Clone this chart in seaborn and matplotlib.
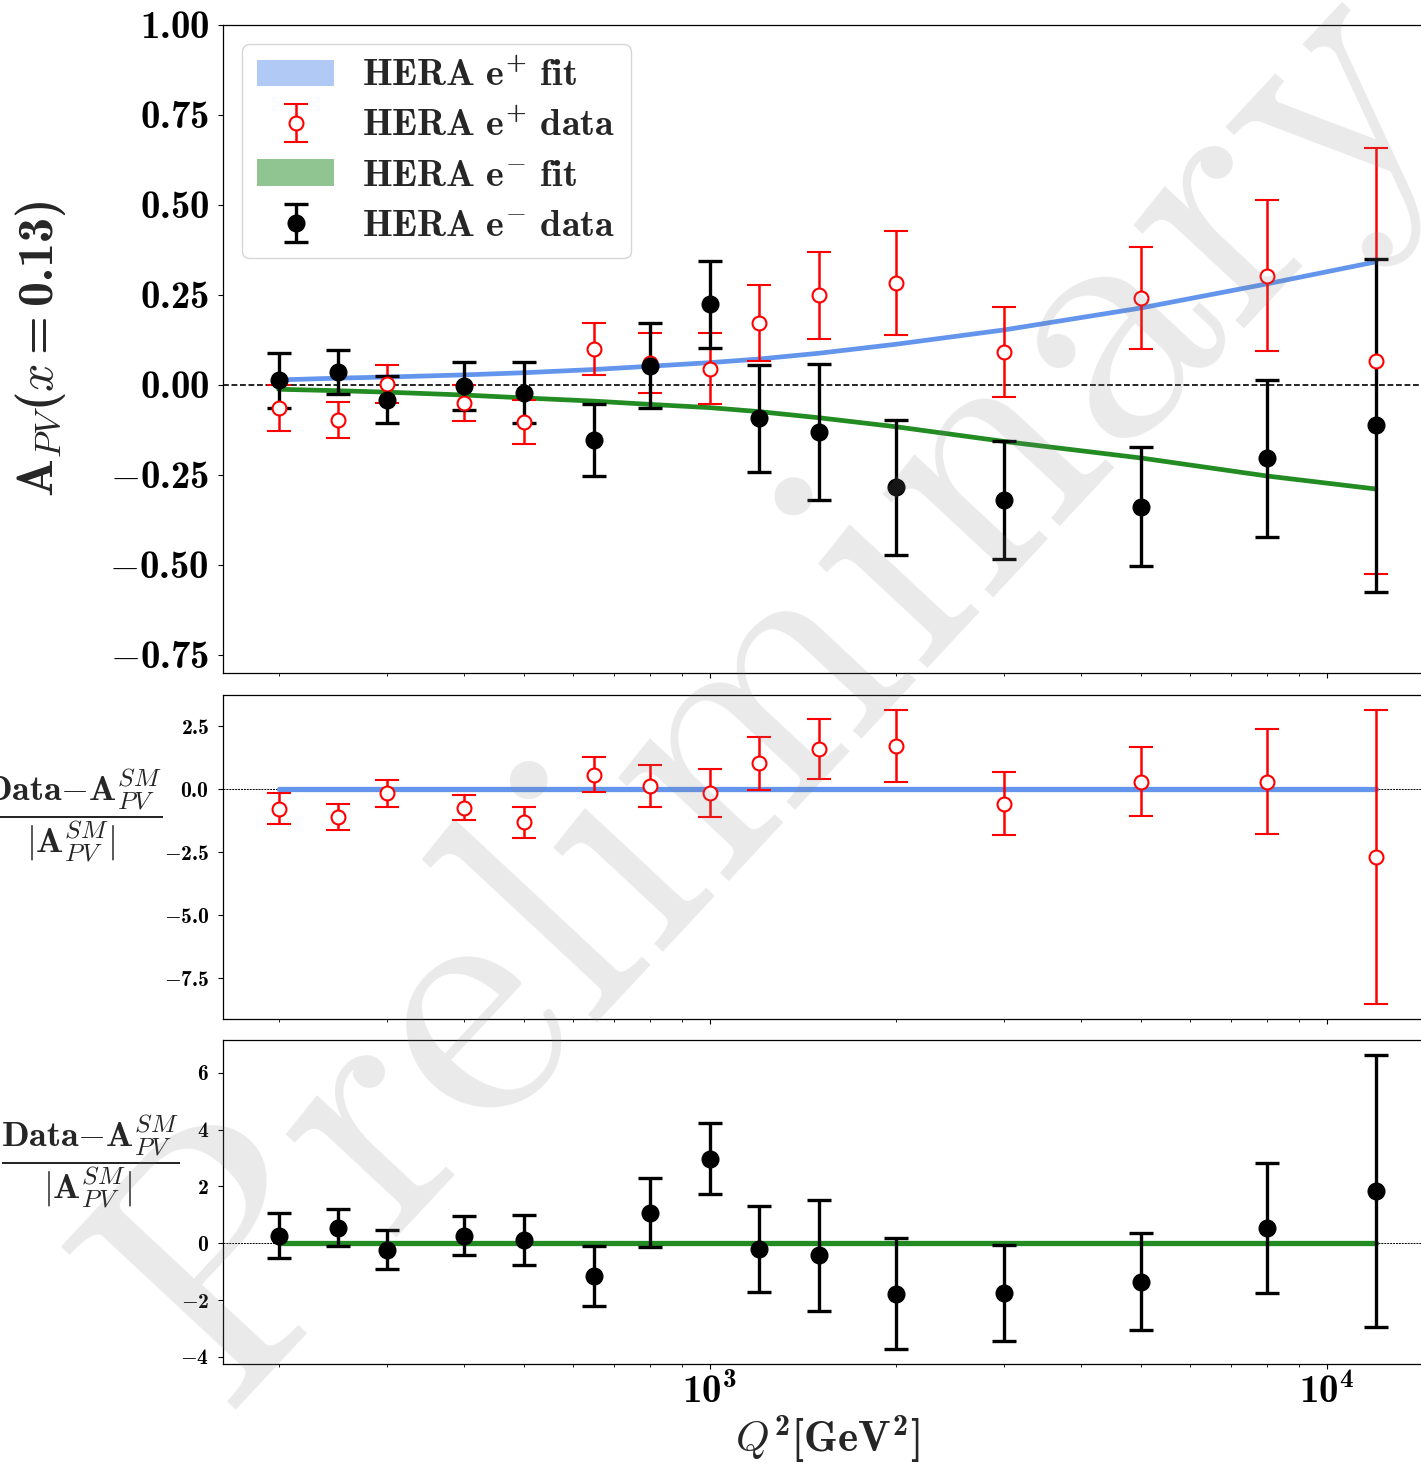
import numpy as np
import matplotlib
matplotlib.use("Agg")
import matplotlib.pyplot as plt
import matplotlib.patches as mpatches
from matplotlib.ticker import NullFormatter
import seaborn as sns

# ---------------- data ----------------
Q2 = [200, 250, 300, 400, 500, 650, 800, 1000, 1200, 1500, 2000, 3000, 5000, 8000, 12000]

ep_fit = [0.014, 0.019, 0.022, 0.028, 0.034, 0.043, 0.052, 0.062, 0.072, 0.088, 0.113, 0.153, 0.214, 0.281, 0.342]
em_fit = [-0.012, -0.016, -0.020, -0.028, -0.036, -0.045, -0.054, -0.063, -0.074, -0.091, -0.116, -0.157, -0.203, -0.253, -0.289]

ep_data = [-0.065, -0.096, 0.003, -0.049, -0.103, 0.100, 0.062, 0.045, 0.173, 0.249, 0.283, 0.092, 0.241, 0.304, 0.066]
ep_err = [0.064, 0.050, 0.053, 0.050, 0.061, 0.073, 0.083, 0.098, 0.106, 0.120, 0.145, 0.125, 0.141, 0.210, 0.592]
em_data = [0.013, 0.035, -0.041, -0.003, -0.021, -0.154, 0.053, 0.224, -0.093, -0.131, -0.284, -0.319, -0.338, -0.204, -0.112]
em_err = [0.076, 0.061, 0.066, 0.066, 0.085, 0.100, 0.118, 0.120, 0.148, 0.188, 0.187, 0.164, 0.165, 0.219, 0.463]

ep_pull = [-0.77, -1.10, -0.16, -0.73, -1.32, 0.58, 0.12, -0.15, 1.02, 1.60, 1.72, -0.57, 0.30, 0.29, -2.69]
ep_pull_err = [0.63, 0.50, 0.53, 0.50, 0.61, 0.71, 0.82, 0.96, 1.05, 1.20, 1.43, 1.24, 1.38, 2.08, 5.84]
em_pull = [0.27, 0.54, -0.22, 0.26, 0.12, -1.16, 1.07, 2.97, -0.21, -0.43, -1.78, -1.74, -1.36, 0.53, 1.84]
em_pull_err = [0.80, 0.65, 0.70, 0.69, 0.88, 1.05, 1.21, 1.25, 1.52, 1.96, 1.95, 1.69, 1.71, 2.28, 4.80]

pull_ref = [0.0] * len(Q2)

top_yticks = [-0.75, -0.50, -0.25, 0.00, 0.25, 0.50, 0.75, 1.00]
top_yticklabels = [r"$-\mathdefault{0.75}$", r"$-\mathdefault{0.50}$", r"$-\mathdefault{0.25}$",
                   r"$\mathdefault{0.00}$", r"$\mathdefault{0.25}$", r"$\mathdefault{0.50}$",
                   r"$\mathdefault{0.75}$", r"$\mathdefault{1.00}$"]
mid_yticks = [-7.5, -5.0, -2.5, 0.0, 2.5]
mid_yticklabels = [r"$-\mathdefault{7.5}$", r"$-\mathdefault{5.0}$", r"$-\mathdefault{2.5}$",
                   r"$\mathdefault{0.0}$", r"$\mathdefault{2.5}$"]
bot_yticks = [-4, -2, 0, 2, 4, 6]
bot_yticklabels = [r"$-\mathdefault{4}$", r"$-\mathdefault{2}$", r"$\mathdefault{0}$",
                   r"$\mathdefault{2}$", r"$\mathdefault{4}$", r"$\mathdefault{6}$"]
xticks = [1e3, 1e4]
xticklabels = [r"$\mathdefault{10}^{\mathdefault{3}}$", r"$\mathdefault{10}^{\mathdefault{4}}$"]

legend_labels = [r"$\mathdefault{HERA\ e}^{\mathdefault{+}}\mathdefault{\ fit}$",
                 r"$\mathdefault{HERA\ e}^{\mathdefault{+}}\mathdefault{\ data}$",
                 r"$\mathdefault{HERA\ e}^{-}\mathdefault{\ fit}$",
                 r"$\mathdefault{HERA\ e}^{-}\mathdefault{\ data}$"]

top_ylabel = r"$\mathdefault{A}_{\mathit{PV}}\mathdefault{(}\mathit{x}\mathdefault{=0.13)}$"
pull_ylabel = (r"$\dfrac{\mathdefault{Data}{-}\mathdefault{A}^{\mathit{SM}}_{\mathit{PV}}}"
               r"{|\mathdefault{A}^{\mathit{SM}}_{\mathit{PV}}|}$")
x_label = r"$\mathit{Q}^{\mathdefault{2}}\mathdefault{[GeV}^{\mathdefault{2}}\mathdefault{]}$"

# ---------------- style ----------------
sns.set_style("ticks")
plt.rcParams["mathtext.fontset"] = "cm"
plt.rcParams["font.family"] = ["cmb10"]
plt.rcParams["axes.linewidth"] = 0.9

BLUE = "cornflowerblue"
GREEN = "forestgreen"

fig = plt.figure(figsize=(14.21, 14.69), dpi=100)
ax1 = fig.add_axes([0.1569, 0.5419, 0.8499, 0.4411])
ax2 = fig.add_axes([0.1569, 0.3063, 0.8499, 0.2206])
ax3 = fig.add_axes([0.1569, 0.0715, 0.8499, 0.2206])

XLIM = (162.5, 14720)
for ax in (ax1, ax2, ax3):
    ax.set_xscale("log")
    ax.set_xlim(*XLIM)
    for s in ax.spines.values():
        s.set_visible(True)
        s.set_color("black")
    ax.tick_params(axis="both", which="both", direction="out", colors="black")
    ax.tick_params(axis="y", which="major", pad=6.5)
    ax.xaxis.set_minor_formatter(NullFormatter())
    ax.set_xticks(xticks)

red_kw = dict(fmt="o", color="red", mfc="white", mec="red", ms=10, mew=1.5,
              elinewidth=1.8, capsize=8.3, capthick=1.8)
black_kw = dict(fmt="o", color="black", ms=12, elinewidth=2.4, capsize=8.3, capthick=2.4)

# ---------------- top panel: asymmetry ----------------
ax1.axhline(0, color="black", ls=(0, (3.5, 1.6)), lw=1.2, zorder=1)
sns.lineplot(x=Q2, y=ep_fit, ax=ax1, color=BLUE, linewidth=3.4, zorder=1.5)
sns.lineplot(x=Q2, y=em_fit, ax=ax1, color=GREEN, linewidth=3.4, zorder=1.5)
h_ep = ax1.errorbar(Q2, ep_data, yerr=ep_err, **red_kw)
h_em = ax1.errorbar(Q2, em_data, yerr=em_err, **black_kw)
ax1.set_ylim(-0.8, 1.0)
ax1.set_yticks(top_yticks, top_yticklabels, fontsize=28)
ax1.set_xticklabels([])
ax1.set_ylabel(top_ylabel, fontsize=36, labelpad=30)

handles = [mpatches.Patch(color=BLUE, alpha=0.5, lw=0), h_ep,
           mpatches.Patch(color=GREEN, alpha=0.5, lw=0), h_em]
ax1.legend(handles, legend_labels, loc="upper left", prop={"family": "cmb10", "size": 27.5},
           frameon=True, labelspacing=0.42, handletextpad=0.75)

# ---------------- middle panel: e+ residuals ----------------
ax2.axhline(0, color="black", ls=(0, (2, 1)), lw=0.7, zorder=1)
sns.lineplot(x=Q2, y=pull_ref, ax=ax2, color=BLUE, linewidth=3.8, zorder=1.5)
ax2.errorbar(Q2, ep_pull, yerr=ep_pull_err, **red_kw)
ax2.set_yticks(mid_yticks, mid_yticklabels, fontsize=15.5)
ax2.set_xticklabels([])
ax2.set_ylabel(pull_ylabel, fontsize=26, rotation=0, ha="right", va="bottom", labelpad=1)
ax2.yaxis.label.set_y(0.475)

# ---------------- bottom panel: e- residuals ----------------
ax3.axhline(0, color="black", ls=(0, (2, 1)), lw=0.7, zorder=1)
sns.lineplot(x=Q2, y=pull_ref, ax=ax3, color=GREEN, linewidth=3.8, zorder=1.5)
ax3.errorbar(Q2, em_pull, yerr=em_pull_err, **black_kw)
ax3.set_yticks(bot_yticks, bot_yticklabels, fontsize=15.5)
ax3.set_xticks(xticks, xticklabels, fontsize=28)
ax3.set_ylabel(pull_ylabel, fontsize=26, rotation=0, ha="right", va="bottom", labelpad=1)
ax3.yaxis.label.set_y(0.472)
ax3.set_xlabel(x_label, fontsize=31, labelpad=1)

# watermark
fig.text(0.548, 0.522, r"$\mathrm{Preliminary}$", fontsize=252, rotation=47,
         color="0.5", alpha=0.17, ha="center", va="center", zorder=10)

fig.savefig("out.png", dpi=100)
